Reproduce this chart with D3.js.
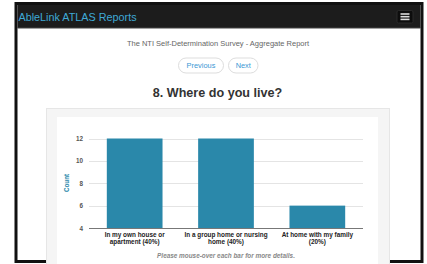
<!DOCTYPE html>
<html>
<head>
<meta charset="utf-8">
<script src="https://cdn.jsdelivr.net/npm/d3@7"></script>
<style>
  html, body { margin: 0; padding: 0; background: #fff; }
  svg { display: block; font-family: "Liberation Sans", Arial, sans-serif; }
</style>
</head>
<body>
<svg id="chart" width="427" height="264"></svg>
<script>
const categories = [
  ["In my own house or", "apartment (40%)"],
  ["In a group home or nursing", "home (40%)"],
  ["At home with my family", "(20%)"]
];
const counts = [12, 12, 6];
const yTicks = [4, 6, 8, 10, 12];
const yDomain = [4, 12];

const svg = d3.select("#chart");

// Device frame
svg.append("rect").attr("x", 16).attr("y", 3.5).attr("width", 406).attr("height", 258)
  .attr("fill", "#fff").attr("stroke", "#111").attr("stroke-width", 3);
// Navbar
svg.append("rect").attr("x", 17.5).attr("y", 5).attr("width", 403).attr("height", 23).attr("fill", "#1c1c1c");
svg.append("line").attr("x1", 17.5).attr("x2", 420.5).attr("y1", 28).attr("y2", 28).attr("stroke", "#444");
svg.append("text").attr("x", 18.5).attr("y", 21).attr("fill", "#3fa9d6")
  .attr("font-size", 10.8).text("AbleLink ATLAS Reports");
svg.append("rect").attr("x", 397).attr("y", 10.5).attr("width", 16).attr("height", 12.5).attr("rx", 1.5)
  .attr("fill", "#0d0d0d").attr("stroke", "#2a2a2a");
[14, 16.7, 19.4].forEach(y => {
  svg.append("rect").attr("x", 400.5).attr("y", y - 0.8).attr("width", 9).attr("height", 1.6).attr("fill", "#ddd");
});

// Header texts
svg.append("text").attr("x", 218).attr("y", 46).attr("text-anchor", "middle")
  .attr("fill", "#666").attr("font-size", 7.5).text("The NTI Self-Determination Survey - Aggregate Report");

function pill(x, w, label) {
  svg.append("rect").attr("x", x).attr("y", 58).attr("width", w).attr("height", 15).attr("rx", 7.5)
    .attr("fill", "#fff").attr("stroke", "#ddd");
  svg.append("text").attr("x", x + w / 2).attr("y", 68.3).attr("text-anchor", "middle")
    .attr("fill", "#3a97d4").attr("font-size", 7.4).text(label);
}
pill(178.5, 45, "Previous");
pill(228.5, 29.5, "Next");

svg.append("text").attr("x", 217.5).attr("y", 97.3).attr("text-anchor", "middle")
  .attr("fill", "#333").attr("font-size", 12.6).attr("font-weight", "bold").text("8. Where do you live?");

// Panel
svg.append("rect").attr("x", 46.5).attr("y", 108.5).attr("width", 343).attr("height", 160)
  .attr("fill", "#f5f5f5").attr("stroke", "#e6e6e6");
svg.append("rect").attr("x", 57).attr("y", 117).attr("width", 321).attr("height", 150).attr("fill", "#fff");

// Chart
const x = d3.scaleBand().domain(d3.range(counts.length)).range([89, 363])
  .paddingInner(0.39).paddingOuter(0.195);
const y = d3.scaleLinear().domain(yDomain).range([228, 138.5]);

const g = svg.append("g");
g.selectAll("line.grid").data(yTicks.slice(1)).join("line")
  .attr("x1", 89).attr("x2", 363)
  .attr("y1", d => Math.round(y(d)) + 0.5).attr("y2", d => Math.round(y(d)) + 0.5)
  .attr("stroke", "#e4e4e4");

g.selectAll("rect.bar").data(counts).join("rect")
  .attr("x", (d, i) => x(i)).attr("width", x.bandwidth())
  .attr("y", d => y(d)).attr("height", d => y(yDomain[0]) - y(d))
  .attr("fill", "#2a88aa");

const yAxis = g.append("g").attr("transform", "translate(89,0)")
  .call(d3.axisLeft(y).tickValues(yTicks).tickSize(0).tickPadding(6));
yAxis.select(".domain").remove();
yAxis.selectAll("text").attr("font-size", 6.3).attr("font-weight", "bold").attr("fill", "#555")
  .attr("font-family", "Liberation Sans, Arial, sans-serif");

g.append("line").attr("x1", 89).attr("x2", 363).attr("y1", y(yDomain[0]) + 0.5).attr("y2", y(yDomain[0]) + 0.5)
  .attr("stroke", "#777").attr("stroke-width", 1);

svg.append("text").attr("transform", "translate(68.5,183) rotate(-90)").attr("text-anchor", "middle")
  .attr("fill", "#2a88aa").attr("font-size", 6.3).attr("font-weight", "bold").text("Count");

categories.forEach((lines, i) => {
  const t = svg.append("text").attr("text-anchor", "middle").attr("fill", "#222")
    .attr("font-size", 6.4).attr("font-weight", "bold");
  lines.forEach((ln, j) => {
    t.append("tspan").attr("x", x(i) + x.bandwidth() / 2).attr("y", 236.5 + j * 7.5).text(ln);
  });
});

svg.append("text").attr("x", 226).attr("y", 257.5).attr("text-anchor", "middle")
  .attr("fill", "#888").attr("font-size", 6.4).attr("font-style", "italic").attr("font-weight", "bold")
  .text("Please mouse-over each bar for more details.");
</script>
</body>
</html>
